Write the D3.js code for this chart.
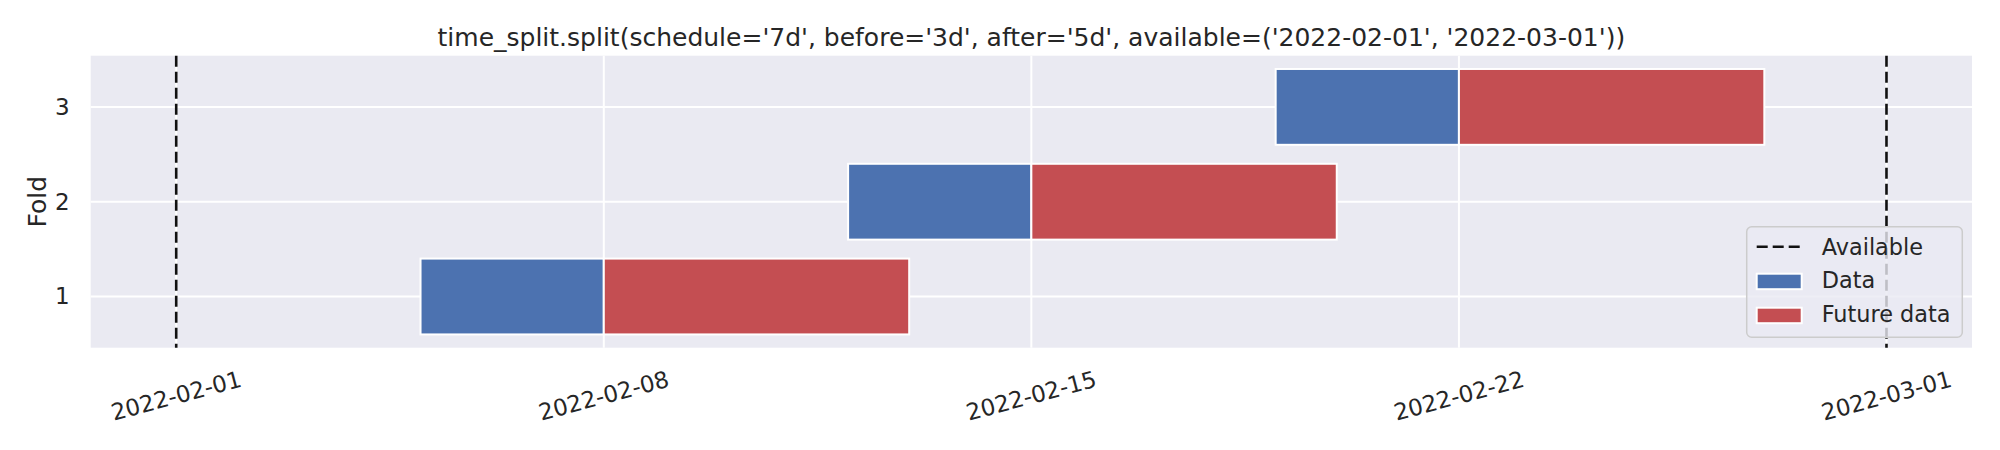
<!DOCTYPE html>
<html>
<head>
<meta charset="utf-8">
<script src="https://cdn.jsdelivr.net/npm/d3@7"></script>
<style>
  body { margin: 0; background: #fff; }
  text { font-family: "DejaVu Sans", sans-serif; fill: #262626; }
</style>
</head>
<body>
<div id="chart"></div>
<script>
// fold data
const folds = [1, 2, 3]
const dataStart = ['2022-02-05', '2022-02-12', '2022-02-19']
const dataEnd = ['2022-02-08', '2022-02-15', '2022-02-22']
const futureEnd = ['2022-02-13', '2022-02-20', '2022-02-27']
const available = ['2022-02-01', '2022-03-01']
const xTicks = ['2022-02-01', '2022-02-08', '2022-02-15', '2022-02-22', '2022-03-01']
const yTicks = [1, 2, 3]
const legendLabels = ['Available', 'Data', 'Future data']

const width = 2000, height = 450
const margin = { top: 55.7, right: 28, bottom: 102.3, left: 90.7 }
const w = width - margin.left - margin.right
const h = height - margin.top - margin.bottom

const blue = '#4C72B0', red = '#C44E52'
const parse = d3.utcParse('%Y-%m-%d')

const svg = d3.select('#chart').append('svg')
    .attr('width', width)
    .attr('height', height)

const g = svg.append('g')
    .attr('transform', 'translate(' + margin.left + ',' + margin.top + ')')

// matplotlib style 5% margins around available range
const a0 = parse(available[0]), a1 = parse(available[1])
const pad = (a1 - a0) * 0.05
const x = d3.scaleUtc()
    .domain([new Date(+a0 - pad), new Date(+a1 + pad)])
    .range([0, w])

const y = d3.scaleLinear()
    .domain([0.46, 3.54])
    .range([h, 0])

g.append('rect')
    .attr('width', w)
    .attr('height', h)
    .attr('fill', '#EAEAF2')

// grid
g.append('g')
    .selectAll('line')
    .data(xTicks)
    .join('line')
    .attr('x1', d => x(parse(d)))
    .attr('x2', d => x(parse(d)))
    .attr('y1', 0)
    .attr('y2', h)
    .attr('stroke', '#fff')
    .attr('stroke-width', 2)

g.append('g')
    .selectAll('line')
    .data(yTicks)
    .join('line')
    .attr('x1', 0)
    .attr('x2', w)
    .attr('y1', d => y(d))
    .attr('y2', d => y(d))
    .attr('stroke', '#fff')
    .attr('stroke-width', 2)

// bars
const barH = 0.8
const rows = folds.map((f, i) => ({
    fold: f,
    s: parse(dataStart[i]),
    m: parse(dataEnd[i]),
    e: parse(futureEnd[i])
}))

g.append('g')
    .selectAll('rect')
    .data(rows)
    .join('rect')
    .attr('x', d => x(d.s))
    .attr('y', d => y(d.fold + barH / 2))
    .attr('width', d => x(d.m) - x(d.s))
    .attr('height', d => y(d.fold - barH / 2) - y(d.fold + barH / 2))
    .attr('fill', blue)
    .attr('stroke', '#fff')
    .attr('stroke-width', 2)

g.append('g')
    .selectAll('rect')
    .data(rows)
    .join('rect')
    .attr('x', d => x(d.m))
    .attr('y', d => y(d.fold + barH / 2))
    .attr('width', d => x(d.e) - x(d.m))
    .attr('height', d => y(d.fold - barH / 2) - y(d.fold + barH / 2))
    .attr('fill', red)
    .attr('stroke', '#fff')
    .attr('stroke-width', 2)

// available lines
g.append('g')
    .selectAll('line')
    .data(available)
    .join('line')
    .attr('x1', d => x(parse(d)))
    .attr('x2', d => x(parse(d)))
    .attr('y1', 0)
    .attr('y2', h)
    .attr('stroke', '#111')
    .attr('stroke-width', 2.6)
    .attr('stroke-dasharray', '11,5')

// x tick labels, rotated
g.append('g')
    .selectAll('text')
    .data(xTicks)
    .join('text')
    .attr('transform', d => 'translate(' + x(parse(d)) + ',' + (h + 48) + ') rotate(-15)')
    .attr('text-anchor', 'middle')
    .attr('dominant-baseline', 'central')
    .style('font-size', '23px')
    .text(d => d)

// y tick labels
g.append('g')
    .selectAll('text')
    .data(yTicks)
    .join('text')
    .attr('x', -21)
    .attr('y', d => y(d))
    .attr('text-anchor', 'end')
    .attr('dominant-baseline', 'central')
    .style('font-size', '23px')
    .text(d => d)

svg.append('text')
    .attr('transform', 'translate(37,' + (margin.top + h / 2) + ') rotate(-90)')
    .attr('text-anchor', 'middle')
    .attr('dominant-baseline', 'central')
    .style('font-size', '25px')
    .text('Fold')

svg.append('text')
    .attr('x', margin.left + w / 2)
    .attr('y', 46)
    .attr('text-anchor', 'middle')
    .style('font-size', '25px')
    .text("time_split.split(schedule='7d', before='3d', after='5d', available=('2022-02-01', '2022-03-01'))")

// legend
const lg = svg.append('g')
    .attr('transform', 'translate(1746.7,226.7)')
lg.append('rect')
    .attr('width', 215.6)
    .attr('height', 110.6)
    .attr('rx', 5)
    .attr('fill', '#EAEAF2')
    .attr('fill-opacity', 0.8)
    .attr('stroke', '#cccccc')
    .attr('stroke-width', 1.5)

lg.append('line')
    .attr('x1', 10)
    .attr('x2', 54)
    .attr('y1', 20)
    .attr('y2', 20)
    .attr('stroke', '#111')
    .attr('stroke-width', 2.6)
    .attr('stroke-dasharray', '11,5')

const patchColors = [blue, red]
lg.selectAll('rect.patch')
    .data(patchColors)
    .join('rect')
    .attr('class', 'patch')
    .attr('x', 10)
    .attr('y', (d, i) => 47 + 34 * i)
    .attr('width', 45)
    .attr('height', 15.5)
    .attr('fill', d => d)
    .attr('stroke', '#fff')
    .attr('stroke-width', 2)

lg.selectAll('text')
    .data(legendLabels)
    .join('text')
    .attr('x', 75)
    .attr('y', (d, i) => 28.3 + 33.4 * i)
    .style('font-size', '22.4px')
    .text(d => d)
</script>
</body>
</html>
